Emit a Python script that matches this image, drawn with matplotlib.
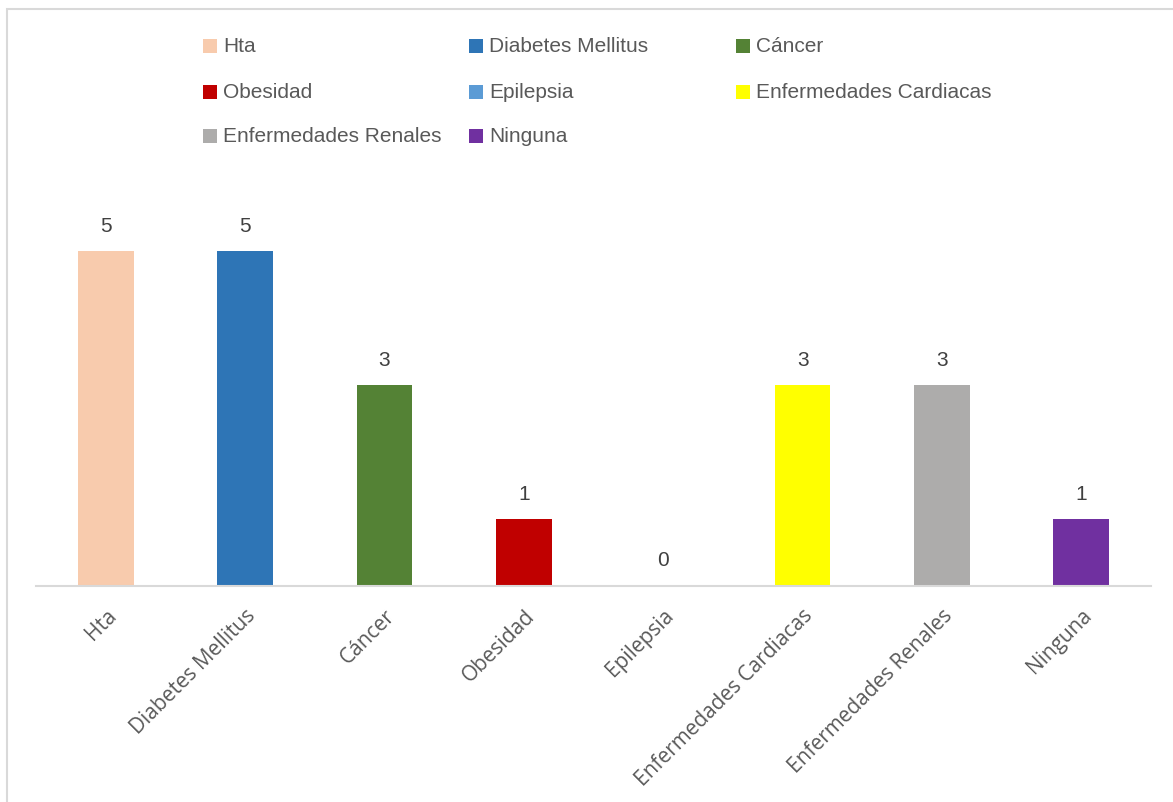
import matplotlib
matplotlib.use("Agg")
import matplotlib.pyplot as plt
from matplotlib.patches import Rectangle

categories = ["Hta", "Diabetes Mellitus", "Cáncer", "Obesidad", "Epilepsia",
              "Enfermedades Cardiacas", "Enfermedades Renales", "Ninguna"]
values = [5, 5, 3, 1, 0, 3, 3, 1]
colors = ["#F8CBAD", "#2E75B6", "#548235", "#C00000", "#5B9BD5",
          "#FFFF00", "#ADACAB", "#7030A0"]

W, H = 1173, 802
fig = plt.figure(figsize=(W / 100, H / 100), dpi=100)

# outer frame (only top/left visible)
fig.patches.append(Rectangle((7 / W, -0.1), 1.2, (H - 9) / H + 0.1, transform=fig.transFigure,
                             fill=False, edgecolor="#D9D9D9", linewidth=1.5))

ax = fig.add_axes([36 / W, (H - 586) / H, 1115 / W, 402 / H])
x = list(range(len(categories)))
ax.bar(x, values, width=0.4, color=colors)
ax.set_xlim(-0.5, len(categories) - 0.5)
ax.set_ylim(0, 6)
for s in ["top", "right", "left"]:
    ax.spines[s].set_visible(False)
ax.spines["bottom"].set_color("#D9D9D9")
ax.spines["bottom"].set_linewidth(1.5)
ax.set_yticks([])
ax.set_xticks(x)
ax.set_xticklabels(categories, rotation=45, ha="right", rotation_mode="anchor",
                   fontsize=15, color="#595959", family="Open Sans")
ax.tick_params(axis="x", length=0, pad=14)

for xi, v in zip(x, values):
    ax.annotate(str(v), (xi, v), xytext=(0, 25), textcoords="offset pixels",
                ha="center", va="center", fontsize=15, color="#404040",
                family="Liberation Sans")

# legend (row-wise, 3 columns)
col_x = [203, 469, 736]
row_y = [46, 92, 136]
for i, (lab, c) in enumerate(zip(categories, colors)):
    r, cidx = divmod(i, 3)
    px, py = col_x[cidx], row_y[r]
    fig.patches.append(Rectangle((px / W, (H - py - 7) / H), 14 / W, 14 / H,
                                 transform=fig.transFigure, facecolor=c, edgecolor="none"))
    fig.text((px + 20) / W, (H - py) / H, lab, ha="left", va="center",
             fontsize=15, color="#595959", family="Liberation Sans")

fig.savefig("out.png", dpi=100)
